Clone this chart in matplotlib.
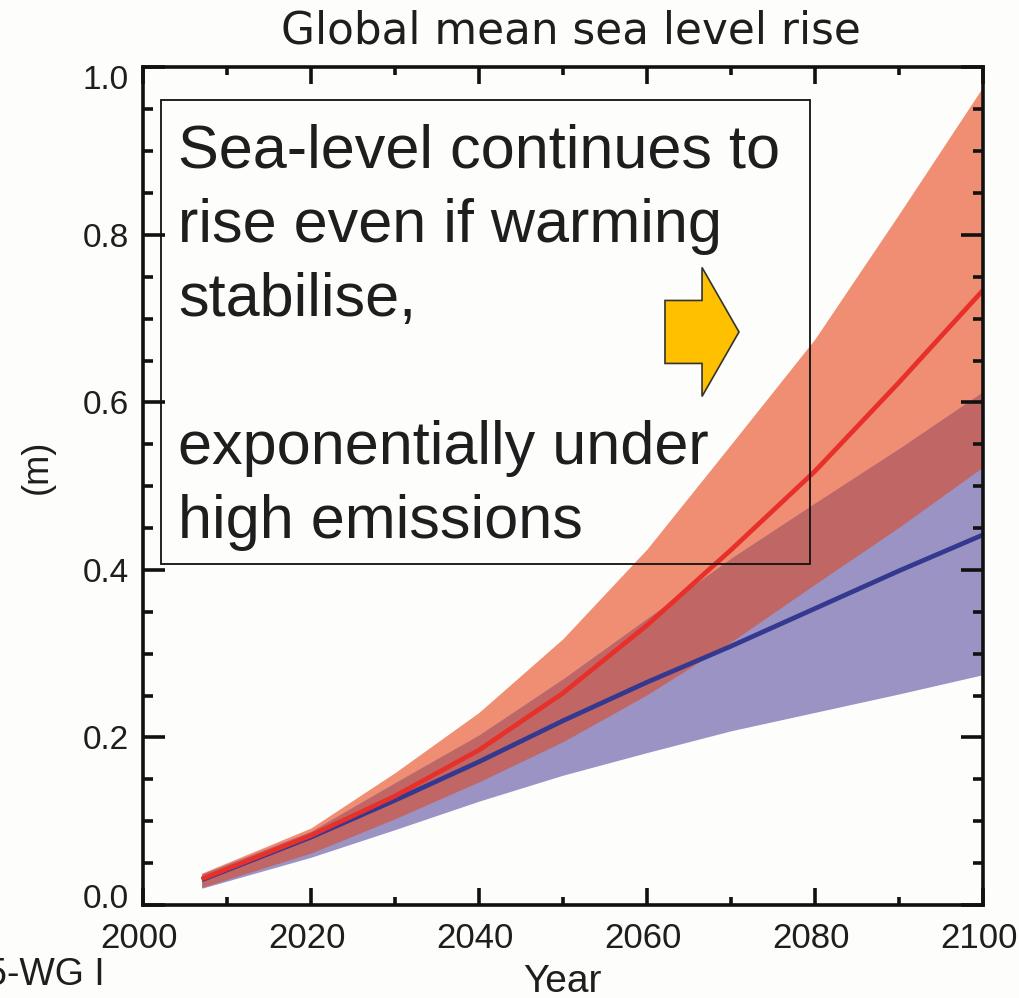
import numpy as np
import matplotlib
matplotlib.use("Agg")
import matplotlib.pyplot as plt
import matplotlib.patches as mpatches
import matplotlib.transforms as mtransforms
from matplotlib.ticker import MultipleLocator, FormatStrFormatter

plt.rcParams['font.family'] = ['Liberation Sans', 'DejaVu Sans']

# ---- data ----
years = [2007, 2020, 2030, 2040, 2050, 2060, 2070, 2080, 2090, 2100]
rcp85_median = [0.031, 0.083, 0.130, 0.185, 0.253, 0.334, 0.424, 0.518, 0.624, 0.734]
rcp85_low = [0.021, 0.062, 0.103, 0.147, 0.195, 0.251, 0.314, 0.383, 0.451, 0.523]
rcp85_high = [0.038, 0.092, 0.158, 0.230, 0.318, 0.425, 0.550, 0.676, 0.825, 0.977]
rcp26_median = [0.030, 0.081, 0.125, 0.171, 0.220, 0.266, 0.309, 0.354, 0.399, 0.442]
rcp26_low = [0.020, 0.057, 0.090, 0.124, 0.155, 0.182, 0.208, 0.230, 0.252, 0.275]
rcp26_high = [0.037, 0.088, 0.146, 0.203, 0.270, 0.342, 0.414, 0.480, 0.545, 0.613]

title = "Global mean sea level rise"
xlabel = "Year"
ylabel = "(m)"
note_lines = ["Sea-level continues to", "rise even if warming", "stabilise,", "",
              "exponentially under", "high emissions"]
source = "AR5-WG I"

# ---- colours ----
bg = "#fdfdfb"
c_orange = "#f08e73"
c_blue = "#9a93c4"
c_overlap = "#c06766"
c_red = "#e8302a"
c_navy = "#34398f"
c_text = "#1e1e1e"

fig = plt.figure(figsize=(10.19, 9.98), dpi=100, facecolor=bg)
ax = fig.add_axes([0.1403, 0.0932, 0.8244, 0.8392])
ax.set_facecolor(bg)

y85lo, y85hi = np.array(rcp85_low), np.array(rcp85_high)
y26lo, y26hi = np.array(rcp26_low), np.array(rcp26_high)
ax.fill_between(years, y85lo, y85hi, color=c_orange, lw=0)
ax.fill_between(years, y26lo, y26hi, color=c_blue, lw=0)
ov_lo = np.maximum(y85lo, y26lo)
ov_hi = np.minimum(y85hi, y26hi)
ax.fill_between(years, ov_lo, ov_hi, where=ov_hi >= ov_lo, color=c_overlap, lw=0)
ax.plot(years, rcp26_median, color=c_navy, lw=3.4, solid_capstyle='butt', solid_joinstyle='round')
ax.plot(years, rcp85_median, color=c_red, lw=3.4, solid_capstyle='butt', solid_joinstyle='round')

ax.set_xlim(2000, 2100)
ax.set_ylim(0, 1.0)
ax.xaxis.set_major_locator(MultipleLocator(20))
ax.xaxis.set_minor_locator(MultipleLocator(10))
ax.yaxis.set_major_locator(MultipleLocator(0.2))
ax.yaxis.set_minor_locator(MultipleLocator(0.05))
ax.yaxis.set_major_formatter(FormatStrFormatter('%.1f'))
for s in ax.spines.values():
    s.set_linewidth(2.6)
    s.set_color("#111111")
ax.tick_params(which='both', direction='in', top=True, right=True, colors="#111111",
               labelcolor=c_text)
ax.tick_params(axis='x', which='major', length=12, width=2.6, labelsize=25, pad=12)
ax.tick_params(axis='x', which='minor', length=6, width=2.6)
ax.tick_params(axis='y', which='major', length=16, width=2.6, labelsize=24, pad=10)
ax.tick_params(axis='y', which='minor', length=7.5, width=2.6)

fig.canvas.draw()
shift = mtransforms.ScaledTranslation(-4 / 100, 0, fig.dpi_scale_trans)
for lab in ax.get_xticklabels():
    lab.set_transform(lab.get_transform() + shift)
ylabs = ax.get_yticklabels()
for lab in ylabs:
    txt = lab.get_text()
    if txt == "0.0":
        lab.set_transform(lab.get_transform() +
                          mtransforms.ScaledTranslation(0, 9 / 100, fig.dpi_scale_trans))
    elif txt == "1.0":
        lab.set_transform(lab.get_transform() +
                          mtransforms.ScaledTranslation(0, -10 / 100, fig.dpi_scale_trans))

fig.text(0.5605, 1 - 43 / 998, title, ha='center', va='baseline', fontsize=31.5,
         color=c_text, family=['DejaVu Sans'])
fig.text(562 / 1019, 1 - 992 / 998, xlabel, ha='center', va='baseline', fontsize=28,
         color=c_text)
fig.text(37.5 / 1019, 0.532, ylabel, ha='center', va='center', rotation=90, fontsize=26,
         color=c_text)
fig.text(105 / 1019, 1 - 985 / 998, source, ha='right', va='baseline', fontsize=27,
         color=c_text)

# annotation box
box = mpatches.Rectangle((0.0214, 0.4072), 0.794 - 0.0214, 0.9612 - 0.4072,
                         transform=ax.transAxes, fill=False, ec="#111111", lw=1.3, zorder=5)
ax.add_patch(box)
baselines = [0.880, 0.7916, 0.7033, 0.615, 0.5266, 0.4382]
for line, yb in zip(note_lines, baselines):
    if line:
        ax.text(0.0417, yb, line, transform=ax.transAxes, ha='left', va='baseline',
                fontsize=44, color=c_text, zorder=6)

arrow = mpatches.FancyArrow(0.6214, 0.6842, 0.0881, 0, width=0.0752, head_width=0.154,
                            head_length=0.044, length_includes_head=True,
                            transform=ax.transAxes, fc="#ffc000", ec="#333333", lw=1.2,
                            zorder=6)
ax.add_patch(arrow)

fig.savefig("out.png", dpi=100, facecolor=bg)
